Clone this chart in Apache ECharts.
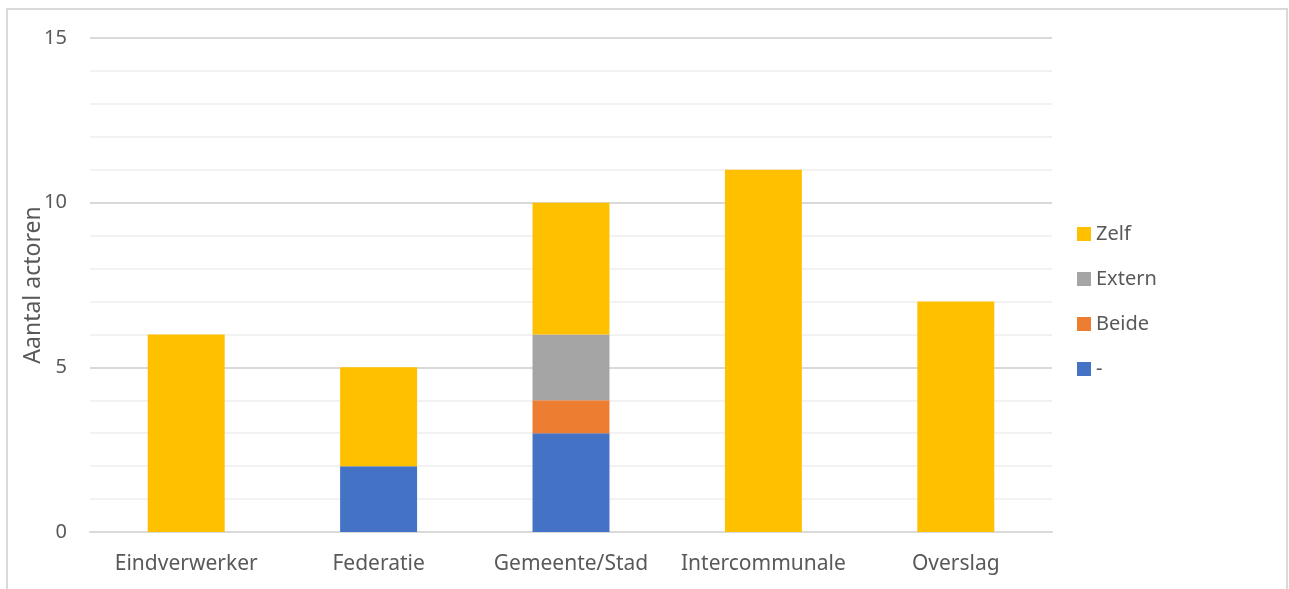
<!DOCTYPE html>
<html>
<head>
<meta charset="utf-8">
<style>
  html, body { margin: 0; padding: 0; background: #fff; }
  #chart { width: 1289px; height: 589px; }
</style>
<script src="https://cdn.jsdelivr.net/npm/echarts@6/dist/echarts.min.js"></script>
</head>
<body>
<div id="chart"></div>
<script>
// Categories and stacked counts per handling type
const categories = ['Eindverwerker', 'Federatie', 'Gemeente/Stad', 'Intercommunale', 'Overslag'];
const dash   = [0, 2, 3, 0, 0];   // "-"
const beide  = [0, 0, 1, 0, 0];
const extern = [0, 0, 2, 0, 0];
const zelf   = [6, 3, 4, 11, 7];
const legendOrder = ['Zelf', 'Extern', 'Beide', '-'];

const FONT = 'Noto Sans';
const TXT = '#595959';

const chart = echarts.init(document.getElementById('chart'), null, { renderer: 'canvas' });

function bar(name, data, color) {
  return {
    name: name,
    type: 'bar',
    stack: 'total',
    data: data.map(v => (v === 0 ? null : v)),
    barWidth: '40%',
    itemStyle: { color: color },
    emphasis: { disabled: true }
  };
}

chart.setOption({
  animation: false,
  textStyle: { fontFamily: FONT },
  graphic: [{
    type: 'rect',
    shape: { x: 7, y: 9, width: 1280, height: 620 },
    style: { fill: 'none', stroke: '#d9d9d9', lineWidth: 2 },
    silent: true,
    z: -10
  }],
  grid: { left: 90, right: 237, top: 38, bottom: 57 },
  legend: {
    orient: 'vertical',
    left: 1072,
    top: 219,
    itemWidth: 14,
    itemHeight: 14,
    itemGap: 25,
    icon: 'rect',
    data: legendOrder,
    textStyle: { color: TXT, fontSize: 20, fontFamily: FONT }
  },
  xAxis: {
    type: 'category',
    data: categories,
    axisLine: { show: true, lineStyle: { color: '#d9d9d9', width: 2 } },
    axisTick: { show: false },
    axisLabel: { color: TXT, fontSize: 21, fontFamily: FONT, margin: 22, interval: 0 }
  },
  yAxis: {
    type: 'value',
    min: 0,
    max: 15,
    interval: 5,
    name: 'Aantal actoren',
    nameLocation: 'middle',
    nameGap: 45,
    nameMoveOverlap: false,
    nameTextStyle: { color: TXT, fontSize: 23, fontFamily: FONT },
    axisLine: { show: false },
    axisTick: { show: false },
    axisLabel: { color: TXT, fontSize: 20, fontFamily: FONT, margin: 23 },
    splitLine: { lineStyle: { color: '#d9d9d9', width: 2 } },
    minorTick: { show: false, splitNumber: 5 },
    minorSplitLine: { show: true, lineStyle: { color: '#f2f2f2', width: 2 } }
  },
  series: [
    bar('-', dash, '#4472c4'),
    bar('Beide', beide, '#ed7d31'),
    bar('Extern', extern, '#a5a5a5'),
    bar('Zelf', zelf, '#ffc000')
  ]
});
</script>
</body>
</html>
